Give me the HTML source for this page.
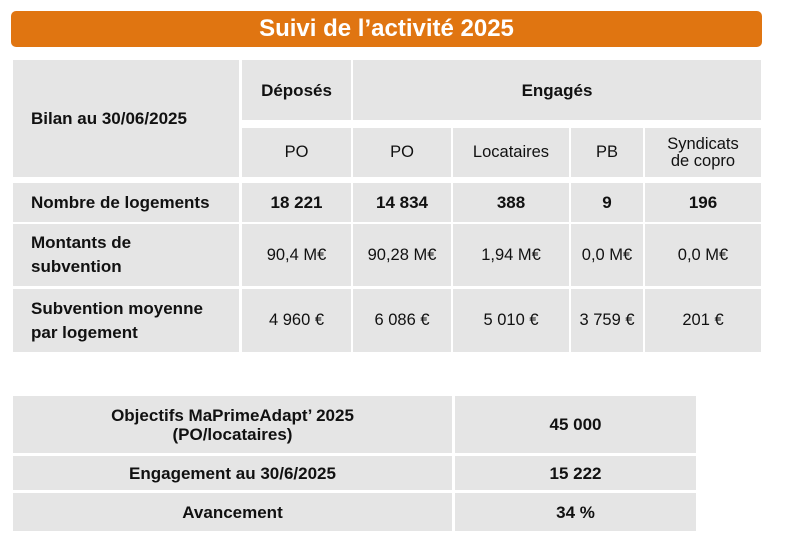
<!DOCTYPE html>
<html><head><meta charset="utf-8"><style>
body{margin:0;width:800px;height:542px;background:#fff;position:relative;overflow:hidden;font-family:"Liberation Sans",sans-serif;color:#111}
.c{position:absolute;background:#e5e5e5;display:flex;align-items:center;justify-content:center;text-align:center;font-size:16.5px;line-height:19px;box-sizing:border-box}
.b{font-weight:bold;font-size:17px}
.l{justify-content:flex-start;text-align:left;padding-left:18px}
#banner{position:absolute;left:11px;top:11px;width:751px;height:36px;background:#e07511;border-radius:5px;color:#fff;font-weight:bold;font-size:24px;display:flex;align-items:center;justify-content:center}
</style></head><body>
<div id="banner">Suivi de l’activité 2025</div>

<div class="c b l" style="left:13px;top:60px;width:226px;height:117px">Bilan au 30/06/2025</div>
<div class="c b" style="left:242px;top:60px;width:109px;height:60px">Déposés</div>
<div class="c b" style="left:353px;top:60px;width:408px;height:60px">Engagés</div>
<div class="c" style="left:242px;top:128px;width:109px;height:49px">PO</div>
<div class="c" style="left:353px;top:128px;width:98px;height:49px">PO</div>
<div class="c" style="left:453px;top:128px;width:116px;height:49px">Locataires</div>
<div class="c" style="left:571px;top:128px;width:72px;height:49px">PB</div>
<div class="c" style="left:645px;top:128px;width:116px;height:49px;line-height:17px">Syndicats<br>de copro</div>

<div class="c b l" style="left:13px;top:183px;width:226px;height:39px">Nombre de logements</div>
<div class="c b" style="left:242px;top:183px;width:109px;height:39px">18 221</div>
<div class="c b" style="left:353px;top:183px;width:98px;height:39px">14 834</div>
<div class="c b" style="left:453px;top:183px;width:116px;height:39px">388</div>
<div class="c b" style="left:571px;top:183px;width:72px;height:39px">9</div>
<div class="c b" style="left:645px;top:183px;width:116px;height:39px">196</div>

<div class="c b l" style="left:13px;top:224px;width:226px;height:62px;line-height:24px">Montants de<br>subvention</div>
<div class="c" style="left:242px;top:224px;width:109px;height:62px">90,4 M€</div>
<div class="c" style="left:353px;top:224px;width:98px;height:62px">90,28 M€</div>
<div class="c" style="left:453px;top:224px;width:116px;height:62px">1,94 M€</div>
<div class="c" style="left:571px;top:224px;width:72px;height:62px">0,0 M€</div>
<div class="c" style="left:645px;top:224px;width:116px;height:62px">0,0 M€</div>

<div class="c b l" style="left:13px;top:289px;width:226px;height:63px;line-height:24px">Subvention moyenne<br>par logement</div>
<div class="c" style="left:242px;top:289px;width:109px;height:63px">4 960 €</div>
<div class="c" style="left:353px;top:289px;width:98px;height:63px">6 086 €</div>
<div class="c" style="left:453px;top:289px;width:116px;height:63px">5 010 €</div>
<div class="c" style="left:571px;top:289px;width:72px;height:63px">3 759 €</div>
<div class="c" style="left:645px;top:289px;width:116px;height:63px">201 €</div>

<div class="c b" style="left:13px;top:396px;width:439px;height:57px">Objectifs MaPrimeAdapt’ 2025<br>(PO/locataires)</div>
<div class="c b" style="left:455px;top:396px;width:241px;height:57px">45 000</div>
<div class="c b" style="left:13px;top:456px;width:439px;height:34px">Engagement au 30/6/2025</div>
<div class="c b" style="left:455px;top:456px;width:241px;height:34px">15 222</div>
<div class="c b" style="left:13px;top:493px;width:439px;height:38px">Avancement</div>
<div class="c b" style="left:455px;top:493px;width:241px;height:38px">34 %</div>
</body></html>
